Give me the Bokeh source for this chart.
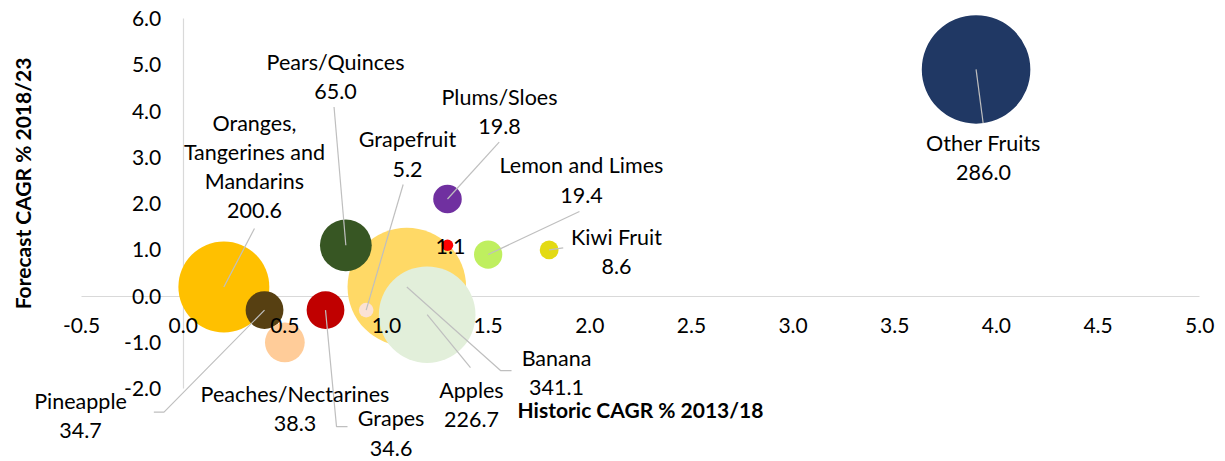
import numpy as np
from bokeh.plotting import figure
from bokeh.models import (ColumnDataSource, Range1d, LinearAxis, FixedTicker,
                          PrintfTickFormatter)
from bokeh.embed import file_html
from bokeh.resources import INLINE
from bokeh.core.properties import value

# ---------------- data (drawing order) ----------------
fruits = ["Oranges, Tangerines and Mandarins", "Banana", "Apples", "Pineapple",
          "Peaches/Nectarines", "Grapes", "Pears/Quinces", "Grapefruit",
          "Plums/Sloes", "", "Lemon and Limes", "Kiwi Fruit", "Other Fruits"]
historic_cagr = [0.2, 1.1, 1.2, 0.4, 0.5, 0.7, 0.8, 0.9, 1.3, 1.3, 1.5, 1.8, 3.9]
forecast_cagr = [0.2, 0.2, -0.4, -0.3, -1.0, -0.3, 1.1, -0.3, 2.1, 1.1, 0.9, 1.0, 4.9]
market_size = [200.6, 341.1, 226.7, 34.7, 38.3, 34.6, 65.0, 5.2, 19.8, 1.1, 19.4, 8.6, 286.0]
colors = ["#FFC000", "#FFD966", "#E2EFDA", "#574012", "#FFCC99", "#C00000",
          "#375623", "#FBE2D5", "#7030A0", "#FF0000", "#BFEF5F", "#E3DA13", "#203864"]

x_ticks = [-0.5, 0.0, 0.5, 1.0, 1.5, 2.0, 2.5, 3.0, 3.5, 4.0, 4.5, 5.0]
y_ticks = [-2.0, -1.0, 0.0, 1.0, 2.0, 3.0, 4.0, 5.0, 6.0]

# ---------------- layout (label placement, px offsets from bubble centre, y down) ----------------
wrap = {"Oranges, Tangerines and Mandarins": "Oranges,\nTangerines and\nMandarins"}
label_off = [(30.6, -120.6), (149.7, 85.8), (44.3, 89.5), (-184, 105.1), (10.1, 66),
             (65.6, 123), (-10.3, -169), (41.3, -156.1), (52, -87.2), (3, 1.2),
             (93.3, -74.5), (67.4, 1.4), (7.4, 87.8)]
leader_off = [[(30.6, -58.4)], [(93.7, 83.6), (104.7, 83.6)], [(43.3, 52.8)],
              [(-100.5, 102.1), (-110.7, 102.1)], [], [(11, 116.5), (22, 116.5)],
              [(-11.8, -138.3)], [(37, -125.6)], [(51.7, -56.8)], [], [(91.3, -43)],
              [(14.1, -2.1)], [(7.1, 53.8)]]

W, H, TOP = 1225, 461, 2
X0, X1 = -0.89867, 5.12691
Y0, Y1 = -3.57174, 6.34615
FW, FH = W, H - TOP
PXX = FW / (X1 - X0)
PXY = FH / (Y1 - Y0)
K = 3.21          # px of radius per sqrt(size unit)
MIN_D = 11.5      # minimum bubble diameter in px

FONT = "Lato"
FS = "21.5px"
TICK_FS = "21px"
TITLE_FS = "21px"

p = figure(width=W, height=H, output_backend="svg", toolbar_location=None,
           x_range=Range1d(X0, X1), y_range=Range1d(Y0, Y1),
           x_axis_type=None, y_axis_type=None)
p.min_border_left = 0
p.min_border_right = 0
p.min_border_bottom = 0
p.min_border_top = TOP
p.outline_line_color = None
p.grid.visible = False
p.background_fill_color = "white"
p.border_fill_color = "white"

# axis lines (below bubbles)
ax_x_line = LinearAxis(fixed_location=0, bounds=(-0.5, 5.0), ticker=FixedTicker(ticks=[]),
                       axis_line_color="#D9D9D9", axis_line_width=1.2,
                       major_tick_line_color=None, minor_tick_line_color=None)
ax_x_line.level = "underlay"
ax_y_line = LinearAxis(fixed_location=0, bounds=(-2.0, 6.0), ticker=FixedTicker(ticks=[]),
                       axis_line_color="#D9D9D9", axis_line_width=1.2,
                       major_tick_line_color=None, minor_tick_line_color=None)
ax_y_line.level = "underlay"
p.add_layout(ax_x_line, "below")
p.add_layout(ax_y_line, "left")

# tick labels (above bubbles)
common_lbl = dict(axis_line_color=None, major_tick_line_color=None, minor_tick_line_color=None,
                  major_tick_out=0, major_tick_in=0,
                  formatter=PrintfTickFormatter(format="%.1f"),
                  major_label_text_font=FONT, major_label_text_font_size=TICK_FS,
                  major_label_text_color="#000000")
ax_x_lbl = LinearAxis(fixed_location=0, ticker=FixedTicker(ticks=x_ticks),
                      major_label_standoff=22, **common_lbl)
ax_y_lbl = LinearAxis(fixed_location=0, ticker=FixedTicker(ticks=y_ticks),
                      major_label_standoff=22, **common_lbl)
p.add_layout(ax_x_lbl, "below")
p.add_layout(ax_y_lbl, "left")

# axis titles
title_common = dict(ticker=FixedTicker(ticks=[]), axis_line_color=None,
                    major_tick_line_color=None, minor_tick_line_color=None,
                    major_tick_out=0, major_tick_in=0,
                    axis_label_text_font=FONT, axis_label_text_font_size=TITLE_FS,
                    axis_label_text_font_style="bold", axis_label_text_color="#000000")
ax_x_title = LinearAxis(fixed_location=-2.0, bounds=(-0.5, 5.0),
                        axis_label="Historic CAGR % 2013/18", axis_label_standoff=8,
                        **title_common)
ax_y_title = LinearAxis(fixed_location=-0.5, bounds=(-1.0, 5.86),
                        axis_label="Forecast CAGR % 2018/23", axis_label_standoff=47,
                        **title_common)
p.add_layout(ax_x_title, "below")
p.add_layout(ax_y_title, "left")

# bubbles
x = np.array(historic_cagr)
y = np.array(forecast_cagr)
s = np.array(market_size)
diam = np.maximum(2 * K * np.sqrt(s), MIN_D)
src = ColumnDataSource(dict(x=x, y=y, d=diam, c=colors))
p.scatter("x", "y", size="d", fill_color="c", line_color=None, source=src)

# leader lines
xs, ys = [], []
for xi, yi, pts in zip(x, y, leader_off):
    if not pts:
        continue
    xs.append([xi] + [xi + dx / PXX for dx, dy in pts])
    ys.append([yi] + [yi - dy / PXY for dx, dy in pts])
p.multi_line(xs, ys, line_color="#BFBFBF", line_width=1.2)

# data labels
texts = []
for name, v in zip(fruits, market_size):
    nm = wrap.get(name, name)
    texts.append(f"{nm}\n{v:.1f}" if nm else f"{v:.1f}")
lx = [xi + dx / PXX for xi, (dx, dy) in zip(x, label_off)]
ly = [yi - dy / PXY for yi, (dx, dy) in zip(y, label_off)]
lsrc = ColumnDataSource(dict(x=lx, y=ly, t=texts))
p.text("x", "y", text="t", source=lsrc, text_font=value(FONT), text_font_size=FS,
       text_align="center", text_baseline="middle", text_line_height=1.124,
       text_color="#000000")

open("out.html", "w").write(file_html(p, INLINE))
